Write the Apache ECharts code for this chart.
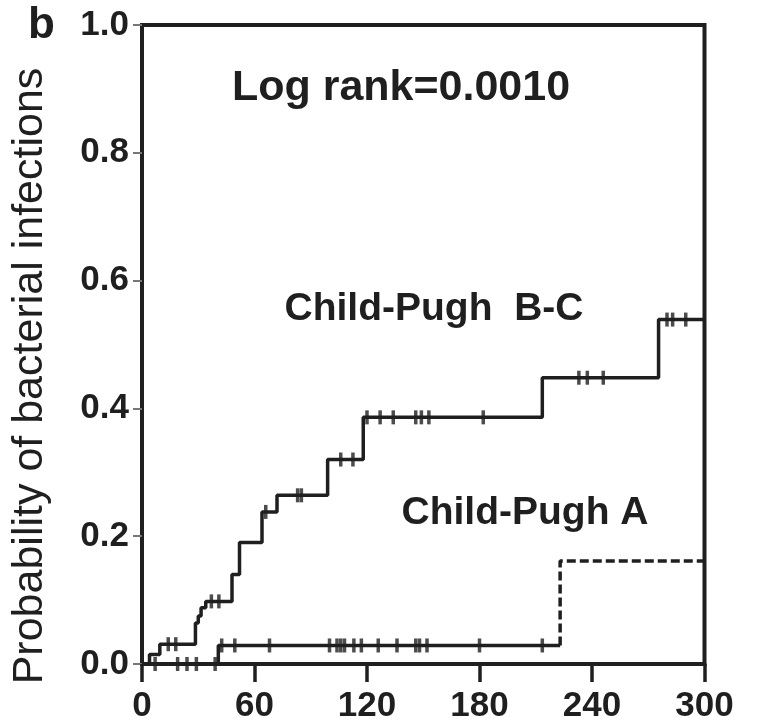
<!DOCTYPE html>
<html>
<head>
<meta charset="utf-8">
<script src="https://cdn.jsdelivr.net/npm/echarts@6/dist/echarts.min.js"></script>
<style>
html,body{margin:0;padding:0;background:#fff;}
#chart{width:783px;height:724px;}
</style>
</head>
<body>
<div id="chart"></div>
<script>
// ---- data ----
var xTicks = [0, 60, 120, 180, 240, 300];
var yTicks = [0.0, 0.2, 0.4, 0.6, 0.8, 1.0];

// Child-Pugh B-C: event times and cumulative probability after each step
var bcTimes = [0, 4, 9.5, 28.5, 30, 31.5, 34, 48, 52, 64, 72, 99, 118, 213.5, 275.5, 300];
var bcProbs = [0, 0.015, 0.031, 0.064, 0.075, 0.088, 0.098, 0.140, 0.190, 0.238, 0.264, 0.320, 0.386, 0.448, 0.539, 0.539];
var bcCensor = [14, 18, 37, 41, 66, 83, 85, 106, 112.5, 120, 127, 134, 146, 149, 153, 182, 233, 237.5, 246, 280, 283, 290];

// Child-Pugh A: solid part, then dashed last step
var aTimes = [0, 40.7, 223];
var aProbs = [0, 0.029, 0.029];
var aDashTimes = [223, 223, 300];
var aDashProbs = [0.029, 0.161, 0.161];
var aCensor = [7, 19, 24, 29, 39, 42.5, 49.5, 68, 100, 104, 106, 108, 113, 117, 126, 136, 146, 148, 152, 180, 213.5];

var annotations = {
  panel: 'b',
  logRank: 'Log rank=0.0010',
  bc: 'Child-Pugh  B-C',
  a: 'Child-Pugh A',
  yName: 'Probability of bacterial infections'
};

// ---- helpers ----
function pairs(xs, ys) { return xs.map(function (x, i) { return [x, ys[i]]; }); }
function stepValue(times, probs, t) {
  var v = probs[0];
  for (var i = 0; i < times.length; i++) { if (times[i] <= t) v = probs[i]; }
  return v;
}
var aAllTimes = aTimes.concat(aDashTimes.slice(1));
var aAllProbs = aProbs.concat(aDashProbs.slice(1));

var INK = '#1f1f1f';
var FONT = 'Liberation Sans, Arial, sans-serif';

var chart = echarts.init(document.getElementById('chart'), null, {renderer: 'canvas'});
var option = {
  animation: false,
  backgroundColor: '#fff',
  grid: {left: 142, right: 78.5, top: 25, bottom: 56, show: true, borderColor: INK, borderWidth: 4},
  xAxis: {
    type: 'value', min: 0, max: 300, interval: 60,
    axisLine: {show: true, lineStyle: {color: INK, width: 4}},
    axisTick: {show: true, length: 18, lineStyle: {color: INK, width: 3.5}},
    axisLabel: {show: true, margin: 25, color: INK, fontSize: 35, fontWeight: 'bold', fontFamily: FONT,
      formatter: function (v) { return xTicks.indexOf(v) >= 0 ? String(v) : ''; }},
    splitLine: {show: false}
  },
  yAxis: {
    type: 'value', min: 0, max: 1, interval: 0.2,
    axisLine: {show: true, lineStyle: {color: INK, width: 4}},
    axisTick: {show: true, length: 9, lineStyle: {color: '#777', width: 2}},
    axisLabel: {show: true, margin: 13, color: INK, fontSize: 35, fontWeight: 'bold', fontFamily: FONT,
      formatter: function (v) { return v.toFixed(1); }},
    splitLine: {show: false}
  },
  series: [
    {type: 'line', step: 'end', data: pairs(bcTimes, bcProbs), showSymbol: false, symbol: 'none',
      lineStyle: {color: INK, width: 3.5}, z: 3},
    {type: 'line', step: 'end', data: pairs(aTimes, aProbs), showSymbol: false, symbol: 'none',
      lineStyle: {color: INK, width: 3.5}, z: 3},
    {type: 'line', data: pairs(aDashTimes, aDashProbs), showSymbol: false, symbol: 'none',
      lineStyle: {color: INK, width: 3.5, type: [9, 4]}, z: 3},
    {type: 'scatter', symbol: 'rect', symbolSize: [3.5, 14], itemStyle: {color: INK},
      data: bcCensor.map(function (t) { return [t, stepValue(bcTimes, bcProbs, t)]; }), z: 4},
    {type: 'scatter', symbol: 'rect', symbolSize: [3.5, 14], itemStyle: {color: INK},
      data: aCensor.map(function (t) { return [t, stepValue(aAllTimes, aAllProbs, t)]; }), z: 4}
  ],
  graphic: [
    {type: 'text', left: 28, top: 4, style: {text: annotations.panel, fill: INK, font: 'bold 44px ' + FONT}},
    {type: 'text', x: 30, y: 376, rotation: Math.PI / 2,
      style: {text: annotations.yName, fill: INK, font: '43px ' + FONT, align: 'center', verticalAlign: 'middle'}},
    {type: 'text', x: 401, y: 88, style: {text: annotations.logRank, fill: INK, font: 'bold 43px ' + FONT, align: 'center', verticalAlign: 'middle'}},
    {type: 'text', x: 434, y: 309, style: {text: annotations.bc, fill: INK, font: 'bold 39px ' + FONT, align: 'center', verticalAlign: 'middle'}},
    {type: 'text', x: 525, y: 513, style: {text: annotations.a, fill: INK, font: 'bold 39px ' + FONT, align: 'center', verticalAlign: 'middle'}}
  ]
};
chart.setOption(option);
</script>
</body>
</html>
